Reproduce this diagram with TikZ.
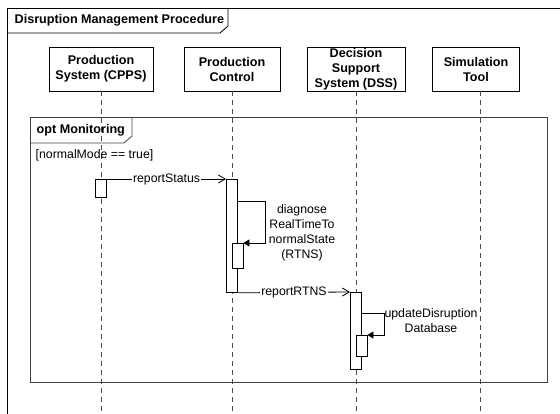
\documentclass[tikz,border=0pt]{standalone}
\usepackage{fontspec}
\setmainfont{Liberation Sans}
\usetikzlibrary{arrows.meta,positioning}

\tikzset{
  every node/.style={font=\fontsize{12.3}{15}\selectfont},
  boldtext/.style={font=\fontsize{12.6}{15}\selectfont\bfseries},
  head/.style={draw,boldtext,align=center,minimum height=44pt,inner sep=1pt},
  lifeline/.style={draw=black!70,dash pattern=on 5pt off 4pt},
  actbox/.style={draw,fill=white,minimum width=11pt,inner sep=0pt,anchor=north},
  msg/.style={-{Straight Barb[length=7pt,width=8pt]}},
  selfmsg/.style={-{Triangle[length=6pt,width=7pt]}},
  lbl/.style={fill=white,inner sep=1pt},
}

\begin{document}
\begin{tikzpicture}[x=1pt,y=-1pt,line width=0.8pt]
  \useasboundingbox (0,0) rectangle (560,414);

  % outer frame
  \draw (7,414) -- (7,8) -- (560,8);
  \draw (7,33) -- (220,33) -- (228,26) -- (228,8);
  \node[anchor=west,boldtext] (title) at (11,20.5) {Disruption Management Procedure};

  % lifeline heads
  \node[head,minimum width=104pt] (cpps) at (101,69) {Production\\System (CPPS)};
  \node[head,minimum width=96pt]  (ctrl) at (232,69) {Production\\Control};
  \node[head,minimum width=98pt]  (dss)  at (356,69) {Decision\\Support\\System (DSS)};
  \node[head,minimum width=87pt]  (sim)  at (476,69) {Simulation\\Tool};

  % lifelines
  \foreach \n in {cpps,ctrl,dss}
    \draw[lifeline] (\n.south) -- (\n.south |- 0,414);
  \coordinate (simtop) at ([xshift=4.5pt]sim.south);
  \draw[lifeline] (simtop) -- (simtop |- 0,414);

  % opt fragment
  \draw[draw=black!75] (30,117) rectangle (547,382);
  \draw[draw=black!75] (30,143) -- (124,143) -- (132,136) -- (132,117);
  \node[anchor=west,boldtext] (opt) at (33,130) {opt Monitoring};
  \node[anchor=west] (guard) at (32,155) {[normalMode == true]};

  % activations
  \node[actbox,minimum height=18pt]  (a1) at (cpps.south |- 0,179) {};
  \node[actbox,minimum height=113pt] (a2) at (ctrl.south |- 0,179) {};
  \node[actbox,minimum height=25pt,xshift=5.5pt] (a3) at (ctrl.south |- 0,243) {};
  \node[actbox,minimum height=77pt]  (a4) at (dss.south |- 0,292) {};
  \node[actbox,minimum height=21pt,xshift=5.5pt] (a5) at (dss.south |- 0,335) {};

  % messages
  \draw[msg] (a1.north east) -- node[lbl] {reportStatus} (a2.north west);
  \draw[selfmsg] ([yshift=-22pt]a2.north east) -- ++(27,0) |- (a3.north east);
  \node[align=center] (diag) at (302,233)
    {diagnose\\RealTimeTo\\normalState\\(RTNS)};
  \draw[msg] (a2.south east) -- node[lbl] {reportRTNS} (a4.north west);
  \draw[selfmsg] ([yshift=-21pt]a4.north east) -- ++(22,0) |- (a5.north east);
  \node[align=center] (upd) at (431,321) {updateDisruption\\Database};
\end{tikzpicture}
\end{document}
